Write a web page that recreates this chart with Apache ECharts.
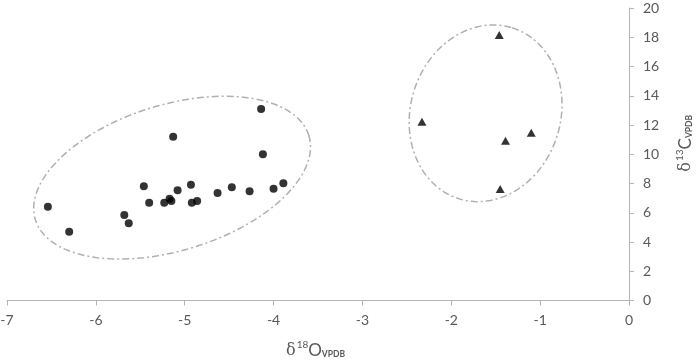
<!DOCTYPE html>
<html>
<head>
<meta charset="utf-8">
<script src="https://cdn.jsdelivr.net/npm/echarts@6/dist/echarts.min.js"></script>
<style>
html,body{margin:0;padding:0;background:#fff;}
#chart{width:699px;height:362px;}
</style>
</head>
<body>
<div id="chart"></div>
<script>
// Group 1 (circles): delta18O, delta13C
var circleX = [-6.54, -6.30, -5.68, -5.63, -5.46, -5.40, -5.23, -5.17, -5.15, -5.13, -5.08, -4.93, -4.92, -4.86, -4.63, -4.47, -4.27, -4.14, -4.12, -4.00, -3.89];
var circleY = [6.41, 4.70, 5.85, 5.28, 7.81, 6.69, 6.69, 6.96, 6.80, 11.20, 7.54, 7.92, 6.69, 6.80, 7.35, 7.74, 7.47, 13.09, 10.00, 7.64, 8.01];
// Group 2 (triangles)
var triX = [-1.46, -2.33, -1.10, -1.39, -1.45];
var triY = [18.15, 12.23, 11.47, 10.93, 7.62];
// Ellipse annotations: center x, center y, conjugate semi-diameters u(x,y), v(x,y) in data units
var ellipseLeft = [-5.142, 8.40, 1.538, 2.900, 0.2486, -4.75];
var ellipseRight = [-1.614, 12.80, 0.299, 5.846, 0.8065, -1.525];
// Axis ticks
var xMin = -7, xMax = 0, xStep = 1;
var yMin = 0, yMax = 20, yStep = 2;

function zip(a, b) { return a.map(function (v, i) { return [v, b[i]]; }); }

var axisColor = '#b4b4b4';
var labelColor = '#595959';
var fontFam = 'Lato, "Open Sans", sans-serif';

var richTitle = {
  d: {fontSize: 16, fontFamily: '"DejaVu Serif", serif', fill: labelColor, color: labelColor, verticalAlign: 'bottom', lineHeight: 22},
  s: {fontSize: 10, fontFamily: fontFam, fill: labelColor, color: labelColor, verticalAlign: 'top', lineHeight: 22, padding: [3, 0, 0, 1]},
  o: {fontSize: 17, fontFamily: fontFam, fill: labelColor, color: labelColor, verticalAlign: 'bottom', lineHeight: 22},
  b: {fontSize: 8.5, fontFamily: fontFam, fontWeight: 'bold', fill: labelColor, color: labelColor, verticalAlign: 'bottom', lineHeight: 22}
};

var chart = echarts.init(document.getElementById('chart'), null, {renderer: 'canvas'});
chart.setOption({
  animation: false,
  backgroundColor: '#ffffff',
  grid: {left: 7, right: 70, top: 8, bottom: 61.5, containLabel: false, outerBoundsMode: 'none'},
  xAxis: {
    type: 'value', min: xMin, max: xMax, interval: xStep,
    axisLine: {show: true, onZero: false, lineStyle: {color: axisColor, width: 1}},
    axisTick: {show: true, inside: false, length: 5, lineStyle: {color: axisColor}},
    splitLine: {show: false},
    axisLabel: {color: labelColor, fontSize: 14, fontFamily: fontFam, margin: 13}
  },
  yAxis: {
    type: 'value', min: yMin, max: yMax, interval: yStep, position: 'right',
    name: '{d|δ}{s|13}{o|C}{b|VPDB}',
    nameLocation: 'middle', nameRotate: 90, nameGap: 43,
    nameTextStyle: {rich: richTitle, padding: [0, 0, 0, 22]},
    axisLine: {show: true, onZero: false, lineStyle: {color: axisColor, width: 1}},
    axisTick: {show: true, inside: false, length: 5, lineStyle: {color: axisColor}},
    splitLine: {show: false},
    axisLabel: {color: labelColor, fontSize: 14, fontFamily: fontFam, margin: 14}
  },
  graphic: [
    {
      type: 'text', left: 286, top: 337,
      style: {text: '{d|δ}{s|18}{o|O}{b|VPDB}', rich: richTitle}
    }
  ],
  series: [
    {
      type: 'custom',
      clip: false,
      silent: true,
      data: [ellipseLeft, ellipseRight],
      encode: {x: 0, y: 1},
      renderItem: function (params, api) {
        var cx = api.value(0), cy = api.value(1);
        var ux = api.value(2), uy = api.value(3), vx = api.value(4), vy = api.value(5);
        var pts = [];
        var n = 120;
        for (var i = 0; i <= n; i++) {
          var t = 2 * Math.PI * i / n;
          pts.push(api.coord([cx + ux * Math.cos(t) + vx * Math.sin(t), cy + uy * Math.cos(t) + vy * Math.sin(t)]));
        }
        return {
          type: 'polyline',
          shape: {points: pts},
          style: {stroke: '#b0b0b0', fill: null, lineWidth: 1.5, lineDash: [7, 3, 2, 3]}
        };
      },
      z: 1
    },
    {
      type: 'scatter',
      data: zip(circleX, circleY),
      symbol: 'circle', symbolSize: 8,
      itemStyle: {color: '#000000'},
      z: 3
    },
    {
      type: 'scatter',
      data: zip(triX, triY),
      symbol: 'triangle', symbolSize: [9, 8],
      itemStyle: {color: '#000000'},
      z: 3
    }
  ]
});
</script>
</body>
</html>
